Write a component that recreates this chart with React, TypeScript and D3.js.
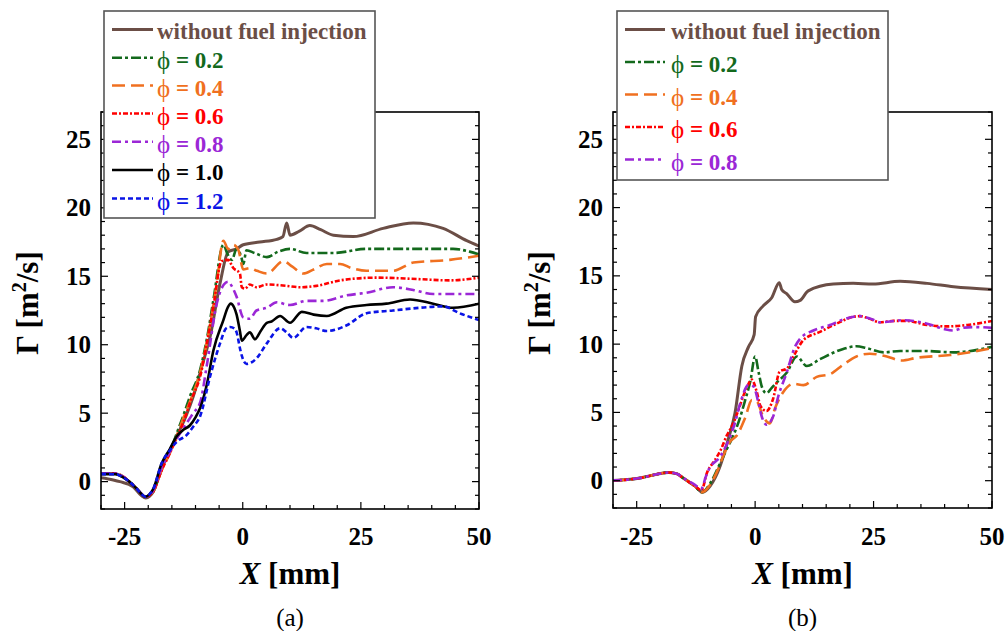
import React from "react";
import * as d3 from "d3";

type Pt = [number, number];

// ---------- data: panel (a) ----------
const aNoFuel: Pt[] = [[-30,0.28],[-27.4,0.12],[-26,0.0],[-23.2,-0.37],[-21.5,-1.0],[-20.5,-1.2],[-19.8,-1.1],[-18.9,-0.7],[-17.5,0.6],[-16.1,1.8],[-14,3.3],[-12,4.8],[-10.5,6.2],[-8.5,8.6],[-6.9,10.6],[-4.8,14.5],[-3.06,16.8],[-1.3,17.0],[0.1,17.3],[3.6,17.5],[7.2,17.7],[8.5,17.9],[9.3,18.9],[10.0,18.0],[12,18.3],[14.2,18.7],[16.5,18.4],[19.2,18.0],[23.4,17.9],[29.7,18.5],[36.1,18.9],[42.4,18.5],[47.4,17.6],[50,17.2]];
const aPhi02: Pt[] = [[-30,0.6],[-27,0.6],[-25.5,0.4],[-24,0.0],[-22.5,-0.5],[-21.3,-0.95],[-20.6,-1.1],[-19.8,-1.0],[-18.9,-0.7],[-17.2,0.9],[-15.4,2.2],[-14,3.5],[-12.5,4.9],[-11.2,6.2],[-9,8.2],[-7.5,10.6],[-6.2,13.3],[-4.1,17.3],[-3.2,16.6],[-2.3,16.2],[-1.3,17.0],[-0.3,16.4],[0.1,15.9],[0.8,16.9],[2.5,16.7],[5.1,16.4],[7.5,16.8],[10,17.0],[13.5,16.7],[19.2,16.7],[26.2,17.0],[33,17.0],[40.3,17.0],[44.5,17.0],[48,16.8],[50,16.6]];
const aPhi04: Pt[] = [[-30,0.6],[-27,0.6],[-25.5,0.4],[-24,0.0],[-22.5,-0.5],[-21.3,-0.95],[-20.6,-1.1],[-19.8,-1.0],[-18.9,-0.7],[-17.2,0.8],[-15.4,2.1],[-14,3.3],[-12.5,4.7],[-11,6.0],[-9,8.0],[-7,11.3],[-5.5,14.5],[-4.1,17.6],[-3.1,17.0],[-2.0,17.3],[-0.9,16.9],[0.1,15.5],[1.5,15.6],[3,15.4],[5.1,15.2],[8.6,16.1],[10.5,15.7],[12.8,15.2],[15,15.5],[17.8,15.9],[20.6,15.9],[23,15.6],[26.2,15.4],[31.8,15.4],[36.1,16.0],[43.8,16.2],[50,16.5]];
const aPhi06: Pt[] = [[-30,0.6],[-27,0.6],[-25.5,0.4],[-24,0.0],[-22.5,-0.5],[-21.3,-0.95],[-20.6,-1.1],[-19.8,-1.0],[-18.9,-0.7],[-17.2,0.8],[-15.4,2.1],[-14,3.2],[-12.5,4.4],[-11,5.9],[-9,7.7],[-7.5,10.3],[-6.2,12.8],[-4.5,16.1],[-3.1,16.2],[-2,15.6],[-0.6,15.2],[-0.2,14.2],[0.5,14.1],[1.5,14.4],[2.9,14.2],[5.1,14.4],[9.3,14.3],[12.1,14.2],[15.6,14.3],[20.6,14.7],[28.3,14.9],[36.8,14.8],[43.8,14.7],[50,14.9]];
const aPhi08: Pt[] = [[-30,0.6],[-27,0.6],[-25.5,0.4],[-24,0.0],[-22.5,-0.5],[-21.3,-0.95],[-20.6,-1.1],[-19.8,-1.0],[-18.9,-0.6],[-17.2,1.0],[-15.4,2.2],[-14,3.1],[-12,4.2],[-10.5,5.0],[-9,5.8],[-7.6,8.5],[-5.5,13.0],[-4,14.4],[-3.1,14.6],[-2.2,14.2],[-1.3,13.5],[0.1,12.0],[1.5,11.9],[2.9,12.5],[5.1,12.7],[7.2,13.1],[10,12.9],[13.5,13.2],[17,13.2],[21.9,13.6],[26.2,13.8],[31.8,14.2],[36.1,14.0],[40.3,13.7],[50,13.7]];
const aPhi10: Pt[] = [[-30,0.55],[-27,0.55],[-25.5,0.35],[-24,0.0],[-22.5,-0.5],[-21.3,-0.95],[-20.6,-1.1],[-19.8,-0.95],[-18.9,-0.5],[-17.2,1.3],[-15.4,2.4],[-14,3.3],[-12.5,3.8],[-11.2,4.1],[-10,4.7],[-9,5.4],[-7.6,7.1],[-6.2,9.6],[-4.1,11.8],[-3.2,12.7],[-2.55,13.0],[-1.8,12.7],[-1.3,12.2],[-0.6,11.0],[-0.2,10.3],[0.8,10.7],[1.5,10.9],[2.6,10.4],[3.8,11.0],[5.1,11.6],[6.1,11.7],[7.9,12.1],[10,11.6],[12.5,12.4],[15,12.2],[17.8,12.1],[21.9,12.7],[26.2,12.9],[30.4,13.0],[35.4,13.3],[40.3,13.0],[44.5,12.7],[50,13.0]];
const aPhi12: Pt[] = [[-30,0.55],[-27,0.55],[-25.5,0.35],[-24,0.0],[-22.5,-0.5],[-21.3,-0.95],[-20.6,-1.1],[-19.8,-0.95],[-18.9,-0.5],[-17.2,1.3],[-15.4,2.3],[-14,2.9],[-11.9,3.4],[-10.5,4.0],[-9,4.8],[-6.9,7.7],[-4.8,10.1],[-3.5,11.2],[-2.7,11.3],[-1.8,11.2],[-1.3,10.9],[-0.5,9.6],[-0.2,9.2],[0.8,8.6],[1.8,8.7],[2.9,9.0],[5.1,10.1],[7.9,11.2],[9.3,10.9],[10.7,10.5],[13.5,11.3],[15.5,11.2],[17.8,11.0],[21.9,11.4],[26.2,12.3],[31.8,12.5],[37.5,12.7],[42.4,12.8],[45.9,12.3],[50,11.8]];

// ---------- data: panel (b) ----------
const bNoFuel: Pt[] = [[-30,0.02],[-27,0.08],[-24.3,0.2],[-21,0.45],[-18.3,0.6],[-16.5,0.5],[-15.2,0.2],[-12.7,-0.4],[-11.1,-0.85],[-9.5,-0.4],[-7.4,1.05],[-5.7,3.0],[-4.25,4.95],[-2.8,8.4],[-1.4,9.8],[-0.2,10.7],[0.1,12.0],[1.7,12.8],[3.5,13.4],[5.1,14.5],[5.6,14.0],[6.65,13.7],[8.4,13.1],[9.5,13.2],[11.2,13.9],[16.5,14.4],[20.7,14.45],[24.9,14.4],[30.6,14.6],[36.3,14.45],[41.9,14.2],[50,14.0]];
const bPhi02: Pt[] = [[-30,0.02],[-27,0.08],[-24.3,0.2],[-21,0.45],[-18.3,0.6],[-16.5,0.5],[-15.2,0.2],[-12.7,-0.4],[-11.2,-0.85],[-9.5,-0.2],[-7.5,1.2],[-6,2.3],[-4.6,3.3],[-3.2,4.6],[-2.1,5.9],[-1,7.3],[0,9.1],[0.7,8.0],[1.4,6.9],[2.4,6.4],[3.5,6.8],[4.6,7.2],[6.65,7.9],[8.8,9.1],[10.9,8.4],[13.7,8.9],[18.6,9.65],[21.4,9.85],[23.6,9.7],[27.1,9.4],[30.6,9.5],[35.6,9.5],[41.9,9.4],[50,9.8]];
const bPhi04: Pt[] = [[-30,0.02],[-27,0.08],[-24.3,0.2],[-21,0.45],[-18.3,0.6],[-16.5,0.5],[-15.2,0.2],[-12.7,-0.4],[-11.2,-0.85],[-9.5,-0.3],[-8,0.7],[-6.5,2.0],[-5.2,2.9],[-3.9,3.3],[-2.1,4.6],[-0.7,5.9],[0.35,5.8],[1.7,4.7],[3.1,4.2],[4.2,5.3],[5.95,6.5],[8.1,7.1],[10.2,7.0],[13,7.6],[15.8,7.8],[18.6,8.5],[21.4,9.1],[24.2,9.3],[27.8,9.1],[30.9,8.8],[34.1,9.0],[41.2,9.2],[50,9.7]];
const bPhi06: Pt[] = [[-30,0.02],[-27,0.08],[-24.3,0.2],[-21,0.45],[-18.3,0.6],[-16.5,0.5],[-15.2,0.2],[-12.7,-0.4],[-11.3,-0.7],[-10.2,0.55],[-8.5,1.5],[-7.2,2.3],[-6,3.3],[-4.6,4.2],[-3.5,5.2],[-1.8,6.8],[-0.7,7.4],[0.35,6.5],[1.1,5.5],[2.4,5.1],[3.8,6.0],[5.2,8.0],[6.65,8.2],[8.1,9.1],[10.2,10.3],[13.7,10.9],[17.2,11.5],[20.7,12.0],[22.1,12.05],[24.2,11.85],[26.4,11.6],[29.2,11.7],[32,11.7],[36.3,11.4],[40.5,11.3],[44.8,11.4],[50,11.7]];
const bPhi08: Pt[] = [[-30,0.02],[-27,0.08],[-24.3,0.2],[-21,0.45],[-18.3,0.6],[-16.5,0.5],[-15.2,0.2],[-12.7,-0.3],[-11.4,-0.6],[-10.4,0.3],[-9.8,0.8],[-7.3,1.8],[-5.3,3.2],[-4.2,4.3],[-3.2,5.6],[-1.4,7.0],[-0.35,6.9],[0.7,5.7],[1.4,4.7],[2.4,4.1],[3.8,4.7],[4.9,6.2],[6.65,7.9],[8.4,9.8],[9.5,10.4],[12.3,11.0],[15.8,11.4],[18.6,11.8],[22.1,12.05],[24.5,11.85],[26.4,11.6],[31.3,11.75],[36.3,11.5],[40,11.1],[41.9,11.0],[44,11.2],[46.2,11.25],[50,11.2]];

const labelsA = ["without fuel injection", "0.2", "0.4", "0.6", "0.8", "1.0", "1.2"];
const labelsB = ["without fuel injection", "0.2", "0.4", "0.6", "0.8"];
const xTicks = [-25, 0, 25, 50];
const yTicks = [0, 5, 10, 15, 20, 25];

const styles = [
  { color: "#6b4e46", dash: "", width: 3 },
  { color: "#13691c", dash: "10,3,3,3", width: 2.6 },
  { color: "#f07020", dash: "13,6", width: 2.6 },
  { color: "#ff0000", dash: "5,2,2,2", width: 2.6 },
  { color: "#9b27d6", dash: "9,4,3,4", width: 2.6 },
  { color: "#000000", dash: "", width: 2.6 },
  { color: "#0a14e6", dash: "5,3", width: 2.6 },
];

const SERIF = "Liberation Serif";

type PanelProps = {
  id: string;
  left: number; right: number; top: number; bottom: number;
  series: Pt[][];
  labels: string[];
  legend: { x0: number; x1: number; y0: number; y1: number; rowY: number[]; lineX0: number; lineX1: number; textX: number };
  caption: string;
};

function Panel(p: PanelProps) {
  const x = d3.scaleLinear().domain([-30, 50]).range([p.left, p.right]);
  const y = d3.scaleLinear().domain([-2, 27]).range([p.bottom, p.top]);
  const line = d3.line<Pt>().x(d => x(d[0])).y(d => y(d[1])).curve(d3.curveMonotoneX);
  const minorY = d3.range(-2, 28, 1);
  const minorX = d3.range(-30, 55, 5);
  const cx = (p.left + p.right) / 2;
  return (
    <g>
      <defs>
        <clipPath id={"clip" + p.id}>
          <rect x={p.left} y={p.top} width={p.right - p.left} height={p.bottom - p.top} />
        </clipPath>
      </defs>
      <g clipPath={`url(#clip${p.id})`}>
        {p.series.map((s, i) => (
          <path key={i} d={line(s) || ""} fill="none" stroke={styles[i].color}
            strokeWidth={styles[i].width} strokeDasharray={styles[i].dash || undefined}
            strokeLinejoin="round" />
        ))}
      </g>
      {minorY.map(v => {
        const len = v % 5 === 0 ? 7 : 4;
        return (
          <g key={"y" + v}>
            <line x1={p.left} x2={p.left + len} y1={y(v)} y2={y(v)} stroke="#000" strokeWidth={1.2} />
            <line x1={p.right} x2={p.right - len} y1={y(v)} y2={y(v)} stroke="#000" strokeWidth={1.2} />
          </g>
        );
      })}
      {minorX.map(v => {
        const len = v % 25 === 0 ? 7 : 4;
        return <line key={"x" + v} x1={x(v)} x2={x(v)} y1={p.bottom} y2={p.bottom - len} stroke="#000" strokeWidth={1.2} />;
      })}
      <rect x={p.left} y={p.top} width={p.right - p.left} height={p.bottom - p.top} fill="none" stroke="#000" strokeWidth={1.6} />
      {yTicks.map(v => (
        <text key={"yl" + v} x={p.left - 10} y={y(v) + 8.5} textAnchor="end" fontFamily={SERIF} fontWeight="bold" fontSize={25}>{v}</text>
      ))}
      {xTicks.map(v => (
        <text key={"xl" + v} x={x(v)} y={545} textAnchor="middle" fontFamily={SERIF} fontWeight="bold" fontSize={25}>{v}</text>
      ))}
      <text x={cx} y={584} textAnchor="middle" fontFamily={SERIF} fontWeight="bold" fontSize={31}>
        <tspan fontStyle="italic">X</tspan> [mm]
      </text>
      <text transform={`translate(${p.left - 63},${303}) rotate(-90)`} textAnchor="middle" fontFamily={SERIF} fontWeight="bold" fontSize={31}>
        Γ  [m<tspan fontSize={20} dy={-12}>2</tspan><tspan dy={12}>/s]</tspan>
      </text>
      <text x={cx} y={626} textAnchor="middle" fontFamily={SERIF} fontSize={25}>{p.caption}</text>
      <rect x={p.legend.x0} y={p.legend.y0} width={p.legend.x1 - p.legend.x0} height={p.legend.y1 - p.legend.y0} fill="#fff" stroke="#555" strokeWidth={1.6} />
      {p.labels.map((lab, i) => {
        const ry = p.legend.rowY[i];
        const c = styles[i].color;
        return (
          <g key={"lg" + i}>
            <line x1={p.legend.lineX0} x2={p.legend.lineX1} y1={ry - 2} y2={ry - 2} stroke={c}
              strokeWidth={styles[i].width} strokeDasharray={styles[i].dash || undefined} />
            {i === 0 ? (
              <text x={p.legend.textX} y={ry} dominantBaseline="central" fontFamily={SERIF} fontWeight="bold" fontSize={23} fill={c}>{lab}</text>
            ) : (
              <text x={p.legend.textX} y={ry} dominantBaseline="central" fontFamily={SERIF} fontSize={23} fill={c}>
                <tspan fontSize={25}>ϕ</tspan><tspan fontWeight="bold">{" = " + lab}</tspan>
              </text>
            )}
          </g>
        );
      })}
    </g>
  );
}

export default function App() {
  return (
    <svg width={1007} height={631} style={{ position: "absolute", left: 0, top: 0, background: "#fff" }}>
      <rect x={0} y={0} width={1007} height={631} fill="#fff" />
      <Panel id="a" left={101} right={479} top={112} bottom={509}
        series={[aNoFuel, aPhi02, aPhi04, aPhi06, aPhi08, aPhi10, aPhi12]}
        labels={labelsA}
        legend={{ x0: 104, x1: 375, y0: 11, y1: 218, rowY: [31.5, 59.7, 87.5, 115.5, 143.7, 172, 200.5], lineX0: 112, lineX1: 153, textX: 157 }}
        caption="(a)" />
      <Panel id="b" left={613} right={992} top={112} bottom={508}
        series={[bNoFuel, bPhi02, bPhi04, bPhi06, bPhi08]}
        labels={labelsB}
        legend={{ x0: 617, x1: 888, y0: 11, y1: 180, rowY: [31.5, 64, 96.5, 129, 161.5], lineX0: 625, lineX1: 665, textX: 671 }}
        caption="(b)" />
    </svg>
  );
}
